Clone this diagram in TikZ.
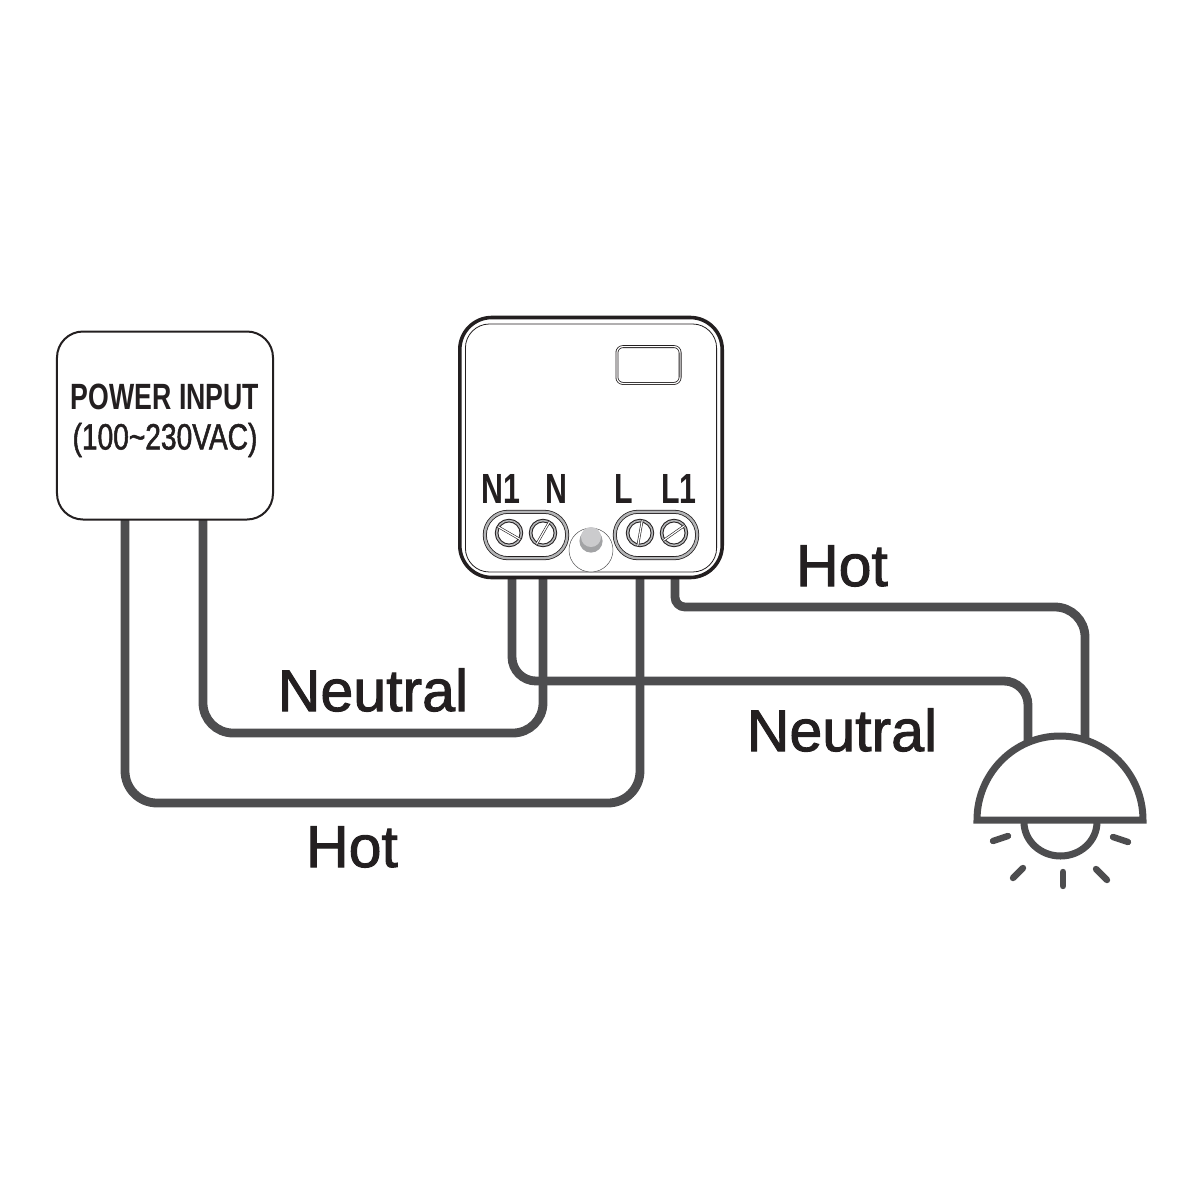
\documentclass[tikz,border=0pt]{standalone}
\usepackage{fontspec}
\setmainfont{Liberation Sans}
\newfontfamily\labelfont[FakeBold=1.6]{Liberation Sans}
\newfontfamily\condfont[FakeStretch=0.73]{Liberation Sans}
\newfontfamily\condlight[FakeStretch=0.77,FakeBold=1.4]{Liberation Sans}
\newfontfamily\pinfont[FakeStretch=0.72]{Liberation Sans}
\usepackage{tikz}
\usetikzlibrary{positioning}
\definecolor{wirecol}{HTML}{4D4D4F}
\definecolor{inkcol}{HTML}{231F20}
\definecolor{ringcol}{HTML}{B4B5B7}

\tikzset{
    wire/.style={draw=wirecol,line width=2.2mm,rounded corners=7.5mm},
    lampline/.style={draw=wirecol,line width=1.75mm},
    ray/.style={draw=wirecol,line width=1.6mm,line cap=round},
    wirelabel/.style={inner sep=0pt,text=inkcol,font=\labelfont\fontsize{42}{42}\selectfont},
    pinlabel/.style={inner sep=0pt,text=inkcol,font=\pinfont\bfseries\fontsize{30}{30}\selectfont},
    pill/.style={draw=inkcol,double=ringcol,double distance=0.6mm,line width=0.2mm,fill=white,
        minimum width=20.6mm,minimum height=11.6mm,rounded corners=5.8mm,inner sep=0pt},
    screw/.style={circle,draw=inkcol,double=ringcol,double distance=0.4mm,line width=0.25mm,fill=white,
        minimum size=6.2mm,inner sep=0pt},
    slot/.style={draw=inkcol,double=white,line width=0.15mm,double distance=0.3mm},
}

\begin{document}
\begin{tikzpicture}[x=0.25mm,y=-0.25mm,node distance=8.5mm,on grid]
    \useasboundingbox (0,0) rectangle (1200,1200);

    % free ends of the wires
    \coordinate (power_n) at (203,520);
    \coordinate (power_l) at (125,520);
    \coordinate (pin_n1) at (512,578);
    \coordinate (pin_n) at (543,578);
    \coordinate (pin_l) at (640,578);
    \coordinate (pin_l1) at (675,578);
    \coordinate (lamp_n) at (1028,750);
    \coordinate (lamp_l) at (1085,745);

    \draw[wire] (power_n) -- ++(0,213) -| (pin_n);
    \draw[wire,rounded corners=8mm] (power_l) -- ++(0,283) -| (pin_l);
    \draw[wire,rounded corners=6mm] (pin_n1) -- ++(0,103) -| (lamp_n);
    \draw[wire,rounded corners=2.5mm] (pin_l1) -- ++(0,29) [rounded corners=7.5mm] -| (lamp_l);

    % power box
    \node[draw=inkcol,line width=0.5mm,fill=white,rounded corners=6.5mm,
          minimum width=54mm,minimum height=47mm,inner sep=0pt] (power) at (165,425.5) {};
    \node[inner sep=0pt,text=inkcol,font=\condfont\bfseries\fontsize{26}{26}\selectfont] (power_title) at (165,397) {POWER INPUT};
    \node[inner sep=0pt,text=inkcol,font=\condlight\fontsize{26}{26}\selectfont] (power_range) [below=10.75mm of power_title] {(100\textasciitilde230VAC)};

    % module
    \node[draw=inkcol,line width=0.9mm,fill=white,rounded corners=8mm,
          minimum width=65.6mm,minimum height=65mm,inner sep=0pt] (module) at (591,447.5) {};
    \node[draw=inkcol,line width=0.2mm,rounded corners=6mm,
          minimum width=62.8mm,minimum height=62mm,inner sep=0pt] (module_in) at (591,448) {};
    \node[draw=inkcol,double=white,line width=0.2mm,double distance=0.3mm,rounded corners=1.5mm,
          minimum width=15.8mm,minimum height=9.2mm,inner sep=0pt] (window) at (648.5,365) {};

    \node[pinlabel] (label_n1) at (501,489) {N1};
    \node[pinlabel] (label_n) at (556,489) {N};
    \node[pinlabel] (label_l) at (624,489) {L};
    \node[pinlabel] (label_l1) at (679,489) {L1};

    \node[pill] (pill_left) at (526,535) {};
    \node[pill] (pill_right) at (656,535) {};

    \node[screw] (screw_n1) at (509,533) {};
    \node[screw] (screw_n) [right=of screw_n1] {};
    \node[screw] (screw_l) at (640,533) {};
    \node[screw] (screw_l1) [right=of screw_l] {};
    \draw[slot] (screw_n1.150) -- (screw_n1.-30);
    \draw[slot] (screw_n.60) -- (screw_n.240);
    \draw[slot] (screw_l.80) -- (screw_l.260);
    \draw[slot] (screw_l1.35) -- (screw_l1.215);

    % button
    \node[circle,draw=wirecol,line width=0.12mm,fill=white,minimum size=11mm,inner sep=0pt] (button) at (591,550) {};
    \node[circle,fill=ringcol!90!black,minimum size=5.8mm,inner sep=0pt] (button_base) at (591,541) {};
    \node[circle,fill=ringcol!70,minimum size=5mm,inner sep=0pt] (button_top) at (591,537) {};

    % lamp
    \draw[lampline] (1024,822) arc[start angle=180,end angle=360,x radius=36.5,y radius=-34];
    \draw[lampline,fill=white,line join=miter] (977,820) arc[start angle=180,end angle=360,x radius=83,y radius=84] -- cycle;
    \draw[ray] (993,841) -- (1008,836);
    \draw[ray] (1113,837) -- (1128,842);
    \draw[ray] (1013,878) -- (1023,868);
    \draw[ray] (1096,869) -- (1107,880);
    \draw[ray] (1063,872) -- (1063,886);

    \node[wirelabel] (neutral_left) at (373,690) {Neutral};
    \node[wirelabel] (hot_left) at (352,847) {Hot};
    \node[wirelabel] (hot_right) at (842,566) {Hot};
    \node[wirelabel] (neutral_right) at (842,730) {Neutral};
\end{tikzpicture}
\end{document}
